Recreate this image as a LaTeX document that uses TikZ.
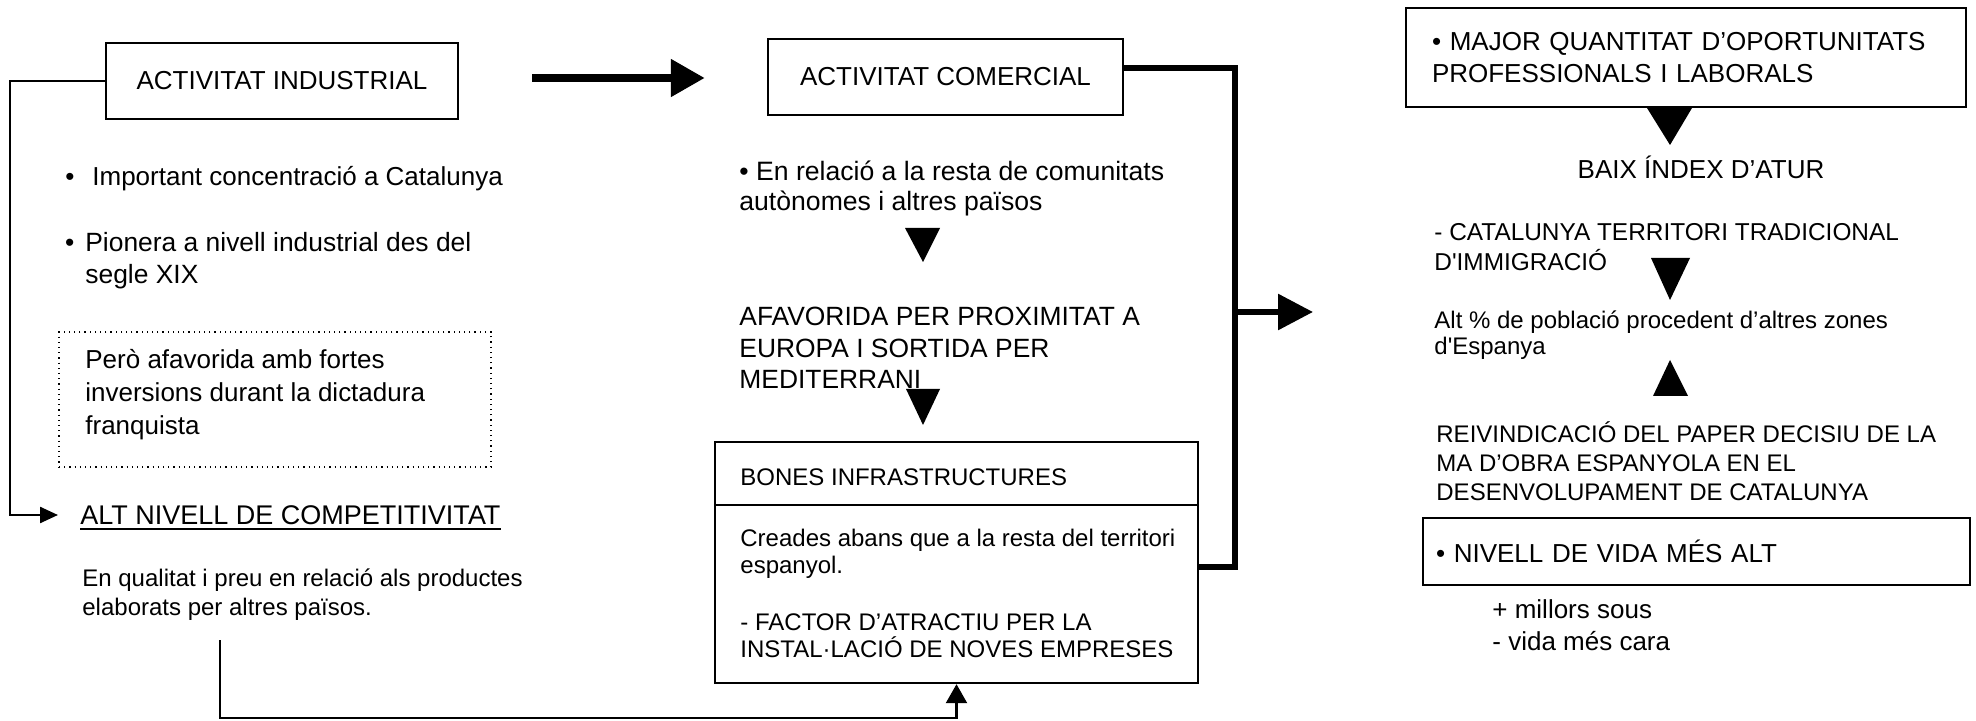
\documentclass[tikz,border=0pt]{standalone}
\usepackage{fontspec}
\setmainfont{Liberation Sans}
\usetikzlibrary{arrows.meta}
\newcommand\fsz[2]{\fontsize{#1}{#2}\selectfont}
\begin{document}
\begin{tikzpicture}[x=0.5pt,y=-0.5pt,
  box/.style={draw, line width=1.2pt, inner sep=0pt},
  txt/.style={anchor=base west, inner sep=0pt, align=left},
  thinline/.style={line width=1.2pt},
  tri/.style={fill=black}]
\useasboundingbox (0,0) rectangle (1976,721);
% ---------- left column (multi-line nodes are placed by the baseline of their last line)
\node[box, minimum width=176pt, minimum height=38pt, font=\fsz{13}{16}] (ai) at (282,81) {ACTIVITAT INDUSTRIAL};
\node[txt, font=\fsz{13}{16}] (b1) at (92,186) {\llap{\textbullet\hspace{9pt}}Important concentració a Catalunya};
\node[txt, font=\fsz{13.2}{16}] (b2) at (85,284) {\llap{\textbullet\hspace{5.5pt}}Pionera a nivell industrial des del\\segle XIX};
\node[draw, dotted, line width=0.6pt, minimum width=216pt, minimum height=67.5pt, inner sep=0pt] (db) at (275,399.5) {};
\node[txt, font=\fsz{13}{16.5}] (pero) at (85,435) {Però afavorida amb fortes\\inversions durant la dictadura\\franquista};
\node[inner sep=0pt, anchor=west, font=\fsz{13.5}{16}] (alt) at (80,515) {ALT NIVELL DE COMPETITIVITAT};
\draw[line width=0.9pt] ([yshift=-2.5pt]alt.base west) -- ([yshift=-2.5pt]alt.base east);
\node[txt, font=\fsz{12}{14.5}] (enq) at (82,615) {En qualitat i preu en relació als productes\\elaborats per altres països.};
\coordinate (l1) at (10,81);
\draw[thinline, -{Triangle[length=9pt,width=8pt]}] (ai.west) -- (l1) |- ([xshift=-11pt]alt.west);
% ---------- middle column
\node[box, minimum width=177.5pt, minimum height=38pt, font=\fsz{13}{16}] (ac) at (945.5,77) {ACTIVITAT COMERCIAL};
\draw[line width=4pt, -{Triangle[length=17pt,width=18pt]}, shorten <=36.5pt, shorten >=31pt]
  ([yshift=1.5pt]ai.east) -- ([yshift=1.5pt]ai.east -| ac.west);
\node[txt, font=\fsz{13.3}{15}] (rel) at (739,211) {\textbullet\ En relació a la resta de comunitats\\autònomes i altres països};
\fill[tri] (905,228) -- (940,228) -- (923,262) -- cycle;
\node[txt, font=\fsz{13.2}{15.75}] (afa) at (739,389) {AFAVORIDA PER PROXIMITAT A\\EUROPA I SORTIDA PER\\MEDITERRANI};
\fill[tri] (906,389) -- (940,389) -- (923,425) -- cycle;
\node[box, minimum width=241.5pt, minimum height=120.5pt] (bones) at (956.5,562.5) {};
\coordinate (dv) at (0,505);
\draw[thinline] (bones.west |- dv) -- (bones.east |- dv);
\node[txt, font=\fsz{12}{14}] (bonest) at (740,486) {BONES INFRASTRUCTURES};
\node[txt, font=\fsz{12}{13.75}] (cre) at (740,657.5) {Creades abans que a la resta del territori\\espanyol.\\[14.5pt]- FACTOR D’ATRACTIU PER LA\\INSTAL·LACIÓ DE NOVES EMPRESES};
\coordinate (j1) at (1235,68);
\coordinate (j2) at (1235,567);
\coordinate (j3) at (1235,312);
\coordinate (tipr) at (1313,312);
\draw[line width=3pt] ([yshift=4.5pt]ac.east) -- (j1) -- (j2) -- (bones.east |- j2);
\draw[line width=3pt, -{Triangle[length=17.5pt,width=17.5pt]}] (j3) -- (tipr);
\coordinate (b0) at (220,640);
\coordinate (b1) at (220,718);
\draw[thinline, -{Triangle[length=9.5pt,width=10.5pt]}] (b0) -- (b1) -| (bones.south);
% ---------- right column
\node[box, minimum width=280pt, minimum height=49.5pt, text width=254pt, inner xsep=13pt, align=left, font=\fsz{13}{16}] (maj) at (1686,57.5) {\textbullet\ MAJOR QUANTITAT D’OPORTUNITATS\\PROFESSIONALS I LABORALS};
\fill[tri] (1647,108) -- (1692,108) -- (1670,145) -- cycle;
\node[font=\fsz{13}{16}, inner sep=0pt, anchor=base] (baix) at (1701,179) {BAIX ÍNDEX D’ATUR};
\node[txt, font=\fsz{12.2}{15}] (cat) at (1434,271) {- CATALUNYA TERRITORI TRADICIONAL\\D\textquotesingle IMMIGRACIÓ};
\fill[tri] (1651,258) -- (1690,258) -- (1670,300) -- cycle;
\node[txt, font=\fsz{12}{13}] (altp) at (1434,355) {Alt \% de població procedent d’altres zones\\d\textquotesingle Espanya};
\fill[tri] (1653,396) -- (1688,396) -- (1670,360) -- cycle;
\node[txt, font=\fsz{12}{14.5}] (rei) at (1436,501) {REIVINDICACIÓ DEL PAPER DECISIU DE LA\\MA D’OBRA ESPANYOLA EN EL\\DESENVOLUPAMENT DE CATALUNYA};
\node[box, minimum width=273.5pt, minimum height=33.5pt, text width=260.5pt, inner xsep=6.5pt, align=left, font=\fsz{13}{16}] (niv) at (1696.5,551.5) {\textbullet\ NIVELL DE VIDA MÉS ALT};
\node[txt, font=\fsz{13}{16}] (mill) at (1492,650) {+ millors sous\\- vida més cara};
\end{tikzpicture}
\end{document}
